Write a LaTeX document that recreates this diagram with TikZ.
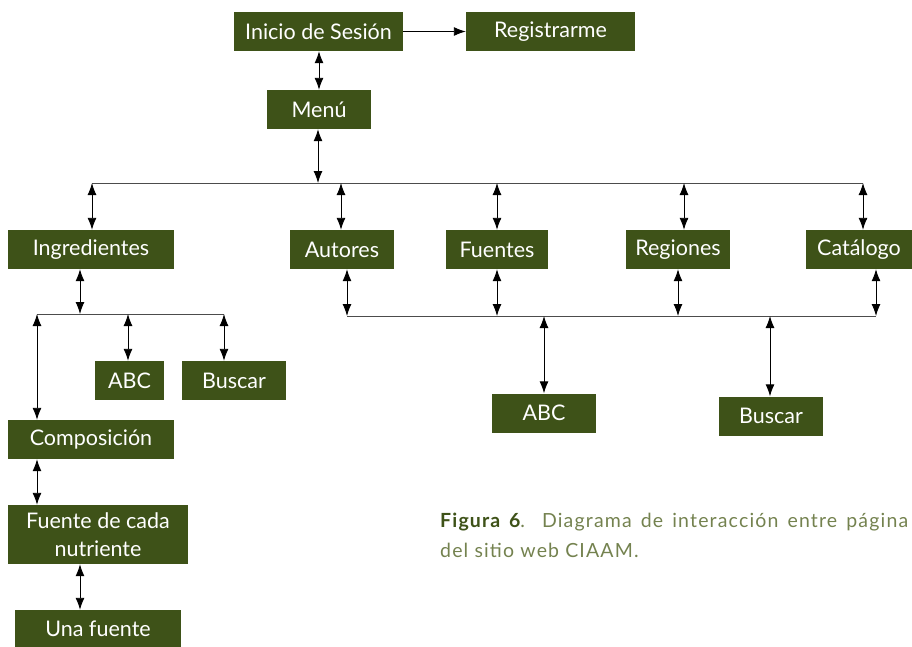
\documentclass[tikz,border=0pt]{standalone}
\usepackage{fontspec}
\setmainfont{Lato}
\newfontfamily\capfont[LetterSpace=6]{Lato}
\usetikzlibrary{arrows.meta}
\definecolor{boxgreen}{HTML}{3E5218}
\definecolor{capgreen}{HTML}{74824F}
\definecolor{capbold}{HTML}{3E5218}
\begin{document}
\begin{tikzpicture}[x=1pt,y=-1pt,
  box/.style={fill=boxgreen,text=white,inner sep=0pt,minimum height=39pt,font=\fontsize{21.5}{28}\selectfont,align=center},
  conn/.style={draw=black,line width=0.9pt,{Latex[length=12pt,width=9pt]}-{Latex[length=12pt,width=9pt]}},
  oneway/.style={draw=black,line width=0.9pt,-{Latex[length=12pt,width=9pt]}},
  bus/.style={draw=black!70,line width=1pt}]
\useasboundingbox (0,0) rectangle (912,646);
% nodes
\node[box,minimum width=169pt] (ini) at (318.5,31.5) {Inicio de Sesión};
\node[box,minimum width=169pt] (reg) at (550.5,31.5) {Registrarme};
\node[box,minimum width=104pt] (menu) at (319,109.5) {Menú};
\node[box,minimum width=166pt] (ing) at (91,249.5) {Ingredientes};
\node[box,minimum width=104pt] (aut) at (342,249.5) {Autores};
\node[box,minimum width=102pt] (fue) at (497,249.5) {Fuentes};
\node[box,minimum width=104pt] (regi) at (678,249.5) {Regiones};
\node[box,minimum width=106pt] (cat) at (859,249.5) {Catálogo};
\node[box,minimum width=104pt] (abcR) at (544,413) {ABC};
\node[box,minimum width=104pt] (busR) at (771,416) {Buscar};
\node[box,minimum width=69pt] (abcL) at (129.5,380.5) {ABC};
\node[box,minimum width=104pt] (busL) at (234,380.5) {Buscar};
\node[box,minimum width=166pt] (comp) at (91,439.5) {Composición};
\node[box,minimum width=180pt,minimum height=59pt] (fcn) at (98,534.5) {Fuente de cada\\nutriente};
\node[box,minimum width=166pt,minimum height=37pt] (una) at (98,628.5) {Una fuente};
% bus coordinates
\coordinate (b1L) at (92,183);
\coordinate (b1R) at (863,183);
\coordinate (b1M) at (318,183);
\coordinate (b1a) at (341,183);
\coordinate (b1f) at (497,183);
\coordinate (b1r) at (684,183);
\coordinate (b2L) at (347,316);
\coordinate (b2R) at (876,316);
\coordinate (b2f) at (497,316);
\coordinate (b2r) at (678,316);
\coordinate (b2abc) at (544,316);
\coordinate (b2bus) at (770,316);
\coordinate (b3L) at (37,314);
\coordinate (b3R) at (224,314);
\coordinate (b3i) at (80,314);
\coordinate (b3abc) at (128,314);
% buses
\draw[bus] (b1L) -- (b1R);
\draw[bus] (b2L) -- (b2R);
\draw[bus] (b3L) -- (b3R);
% connectors
\draw[oneway] (ini) -- (reg);
\draw[conn] (ini.south -| menu) -- (menu.north);
\draw[conn] (menu.south -| b1M) -- (b1M);
\draw[conn] (b1L) -- (b1L |- ing.north);
\draw[conn] (b1a) -- (b1a |- aut.north);
\draw[conn] (b1f) -- (b1f |- fue.north);
\draw[conn] (b1r) -- (b1r |- regi.north);
\draw[conn] (b1R) -- (b1R |- cat.north);
\draw[conn] (b2L |- aut.south) -- (b2L);
\draw[conn] (b2f |- fue.south) -- (b2f);
\draw[conn] (b2r |- regi.south) -- (b2r);
\draw[conn] (b2R |- cat.south) -- (b2R);
\draw[conn] (b2abc) -- (b2abc |- abcR.north);
\draw[conn] (b2bus) -- (b2bus |- busR.north);
\draw[conn] (b3i |- ing.south) -- (b3i);
\draw[conn] (b3abc) -- (b3abc |- abcL.north);
\draw[conn] (b3R) -- (b3R |- busL.north);
\draw[conn] (b3L) -- (b3L |- comp.north);
\draw[conn] (comp.south -| b3L) -- (b3L |- fcn.north);
\draw[conn] (fcn.south -| b3i) -- (b3i |- una.north);
% caption
\node[anchor=base west,inner sep=0pt,text=capgreen,font=\capfont\fontsize{19.5}{30}\selectfont,align=left] (cap) at (440,557)
  {\makebox[468pt][s]{{\color{capbold}\bfseries Figura 6}. Diagrama de interacción entre página}\\del sitio web CIAAM.};
\end{tikzpicture}
\end{document}
